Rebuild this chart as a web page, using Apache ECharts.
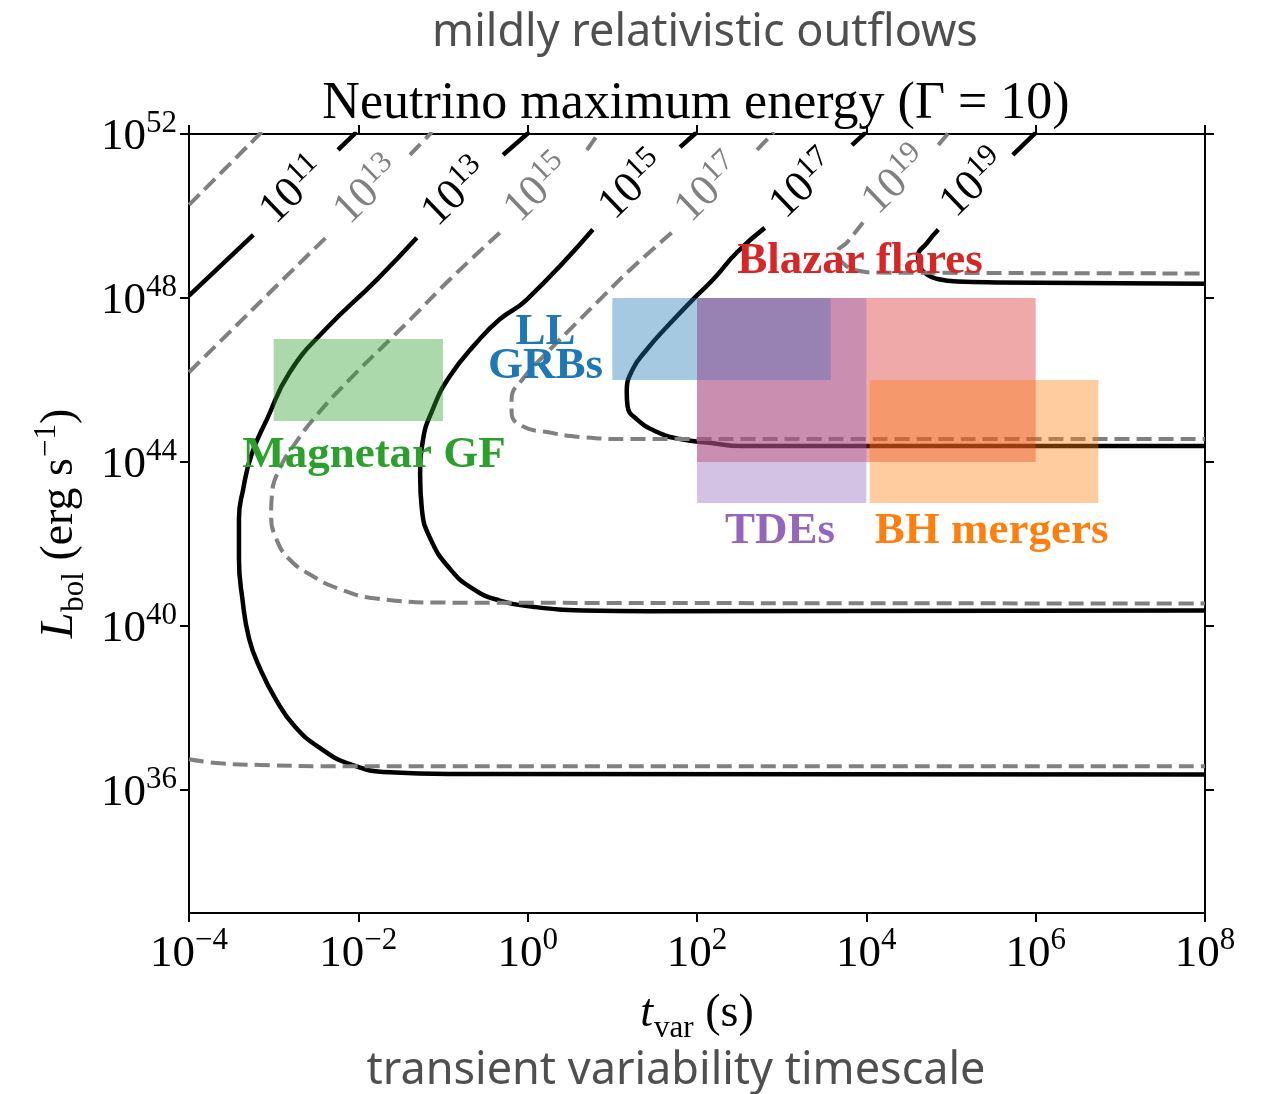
<!DOCTYPE html>
<html>
<head>
<meta charset="utf-8">
<script src="https://cdn.jsdelivr.net/npm/echarts@6/dist/echarts.min.js"></script>
<style>
  html, body { margin: 0; padding: 0; background: #fff; }
  #chart { width: 1263px; height: 1094px; }
</style>
</head>
<body>
<div id="chart"></div>
<script>
// ---------------- DATA (log10 values) ----------------
const X_TICK_EXP = [-4, -2, 0, 2, 4, 6, 8];
const Y_TICK_EXP = [36, 40, 44, 48, 52];
const X_RANGE_EXP = [-4, 8];
const Y_RANGE_EXP = [33, 52];

// black solid contours (segments of [log10 t, log10 L])
const B11 = [
  [[-4.00, 48.06], [-3.24, 49.54]],
  [[-2.24, 51.61], [-2.02, 52.05]]
];
const B13 = [
  [[-1.31, 49.47], [-1.78, 48.45], [-2.39, 47.23], [-2.81, 46.19], [-3.08, 45.04], [-3.26, 44.19],
   [-3.36, 43.34], [-3.41, 42.61], [-3.41, 41.64], [-3.37, 40.67], [-3.29, 39.69], [-3.16, 38.96],
   [-2.98, 38.23], [-2.75, 37.55], [-2.45, 37.02], [-2.10, 36.63], [-1.63, 36.43], [-0.92, 36.39],
   [8.00, 36.38]],
  [[-0.29, 51.49], [0.02, 52.05]]
];
const B15 = [
  [[0.77, 49.67], [-0.01, 47.96], [-0.33, 47.48], [-0.60, 46.92], [-0.92, 46.09], [-1.12, 45.29],
   [-1.24, 44.49], [-1.27, 43.66], [-1.25, 42.86], [-1.15, 42.13], [-0.92, 41.40], [-0.65, 40.91],
   [-0.33, 40.62], [0.06, 40.47], [0.65, 40.38], [1.44, 40.36], [8.00, 40.38]],
  [[1.80, 51.68], [2.00, 52.05]]
];
const B17 = [
  [[2.80, 49.71], [2.47, 49.11], [2.19, 48.45], [1.95, 47.96], [1.65, 47.31], [1.41, 46.75],
   [1.24, 46.26], [1.17, 45.70], [1.18, 45.36], [1.29, 45.04], [1.53, 44.73], [1.80, 44.56],
   [2.19, 44.46], [2.51, 44.39], [8.00, 44.39]],
  [[3.83, 51.73], [4.00, 52.05]]
];
const B19 = [
  [[4.85, 49.67], [4.72, 49.35], [4.61, 49.01], [4.63, 48.77], [4.72, 48.57], [4.83, 48.47],
   [5.07, 48.40], [5.54, 48.38], [8.00, 48.35]],
  [[5.73, 51.49], [6.01, 52.05]]
];

// grey dashed contours
const G11 = [
  [[-4.00, 50.27], [-3.14, 52.05]]
];
const G13 = [
  [[-4.00, 46.19], [-2.89, 48.45], [-2.37, 49.50]],
  [[-1.39, 51.49], [-1.13, 52.05]],
  [[-4.00, 36.75], [-3.63, 36.65], [-3.16, 36.61], [-2.33, 36.58], [8.00, 36.58]]
];
const G15 = [
  [[-0.33, 49.59], [-0.92, 48.45], [-1.35, 47.55], [-1.59, 47.06], [-2.10, 46.02], [-2.48, 45.17],
   [-2.75, 44.44], [-2.93, 43.83], [-3.02, 43.22], [-3.03, 42.69], [-2.97, 42.13], [-2.82, 41.64],
   [-2.55, 41.23], [-2.23, 40.91], [-1.79, 40.67], [-0.92, 40.57], [8.00, 40.55]],
  [[0.70, 51.61], [0.85, 52.05]]
];
const G17 = [
  [[1.70, 49.59], [1.21, 48.69], [0.89, 48.04], [0.58, 47.40], [0.23, 46.67], [-0.06, 46.02],
   [-0.19, 45.53], [-0.19, 45.21], [-0.06, 44.87], [0.23, 44.73], [0.62, 44.61], [1.21, 44.56],
   [8.00, 44.56]],
  [[2.71, 51.61], [2.91, 52.05]]
];
const G19 = [
  [[3.96, 49.84], [3.77, 49.35], [3.66, 49.11], [3.72, 48.86], [3.89, 48.67], [4.16, 48.62],
   [8.00, 48.60]],
  [[4.85, 51.73], [4.98, 52.05]]
];

// contour labels: [log10 t, log10 L, exponent]
const BLACK_LABELS = [[-2.78, 50.64, 11], [-0.86, 50.59, 13], [1.23, 50.76, 15], [3.25, 50.78, 17], [5.26, 50.81, 19]];
const GREY_LABELS  = [[-1.90, 50.64, 13], [0.11, 50.69, 15], [2.13, 50.69, 17], [4.34, 50.88, 19]];

// source boxes (drawn in this order): log10 t range, log10 L range
const BOX_NAMES = ['Blazar flares', 'LL GRBs', 'TDEs', 'BH mergers', 'Magnetar GF'];
const BOX_T0 = [2, 1, 2, 4.04, -3];
const BOX_T1 = [6, 3.58, 4, 6.74, -1];
const BOX_L0 = [44, 46, 43, 43, 45];
const BOX_L1 = [48, 48, 48, 46, 47];

// source text annotations: text and position (log10 t, log10 L)
const ANNOT_TEXT = ['Magnetar GF', 'LL\nGRBs', 'Blazar flares', 'TDEs', 'BH mergers'];
const ANNOT_T = [-1.815, 0.21, 3.925, 2.98, 5.48];
const ANNOT_L = [44.17, 46.75, 48.89, 42.30, 42.30];

// ---------------- STYLES ----------------
const SERIF = '"Liberation Serif", "DejaVu Serif", serif';
const SANS = '"Noto Sans", "Open Sans", sans-serif';
const BOX_COLORS = { 'Blazar flares': '#d62728', 'LL GRBs': '#1f77b4', 'TDEs': '#9467bd', 'BH mergers': '#ff7f0e', 'Magnetar GF': '#2ca02c' };
const ANNOT_COLORS = ['#2ca02c', '#1f77b4', '#d62728', '#9467bd', '#ff7f0e'];

const pw = (e) => Math.pow(10, e);
const supText = (e) => (e < 0 ? '\u2212' : '') + Math.abs(e);

const series = [];
function addContour(segs, solid) {
  segs.forEach(seg => {
    series.push({
      type: 'line',
      data: seg.map(p => [pw(p[0]), pw(p[1])]),
      showSymbol: false,
      symbol: 'none',
      smooth: 0.5,
      silent: true,
      clip: true,
      z: 2,
      lineStyle: solid
        ? { color: '#000000', width: 4.5, type: 'solid', cap: 'butt', opacity: 1 }
        : { color: '#808080', width: 4, type: [15, 7], cap: 'butt', opacity: 1 }
    });
  });
}
[B11, B13, B15, B17, B19].forEach(c => addContour(c, true));
[G11, G13, G15, G17, G19].forEach(c => addContour(c, false));

// boxes
series.push({
  type: 'custom',
  silent: true,
  z: 5,
  encode: { x: [0, 1], y: [2, 3] },
  data: BOX_NAMES.map((n, i) => ({ name: n, value: [pw(BOX_T0[i]), pw(BOX_T1[i]), pw(BOX_L0[i]), pw(BOX_L1[i])] })),
  renderItem: (params, api) => {
    const a = api.coord([api.value(0), api.value(2)]);
    const b = api.coord([api.value(1), api.value(3)]);
    return {
      type: 'rect',
      shape: { x: Math.min(a[0], b[0]), y: Math.min(a[1], b[1]), width: Math.abs(b[0] - a[0]), height: Math.abs(b[1] - a[1]) },
      style: { fill: BOX_COLORS[BOX_NAMES[params.dataIndex]], opacity: 0.4 }
    };
  }
});

// contour labels
function labelSeries(list, color) {
  return {
    type: 'scatter',
    silent: true,
    z: 6,
    symbolSize: 1,
    itemStyle: { color: 'rgba(0,0,0,0)', opacity: 1 },
    data: list.map(l => ({ value: [pw(l[0]), pw(l[1])], exp: l[2] })),
    label: {
      show: true,
      position: 'inside',
      rotate: 44,
      opacity: 1,
      formatter: (p) => '{b|10}{s|' + p.data.exp + '}',
      rich: {
        b: { fontFamily: SERIF, fontSize: 44, lineHeight: 48, verticalAlign: 'bottom', color: color },
        s: { fontFamily: SERIF, fontSize: 31, lineHeight: 30, verticalAlign: 'top', color: color }
      }
    }
  };
}
series.push(labelSeries(BLACK_LABELS, '#000000'));
series.push(labelSeries(GREY_LABELS, '#808080'));

// text annotations
series.push({
  type: 'scatter',
  silent: true,
  z: 7,
  symbolSize: 1,
  itemStyle: { color: 'rgba(0,0,0,0)', opacity: 1 },
  data: ANNOT_TEXT.map((t, i) => ({
    name: t,
    value: [pw(ANNOT_T[i]), pw(ANNOT_L[i])],
    label: { color: ANNOT_COLORS[i] }
  })),
  label: {
    show: true,
    position: 'inside',
    formatter: '{b}',
    opacity: 1,
    fontFamily: SERIF,
    fontWeight: 'bold',
    fontSize: 45,
    lineHeight: 34,
    align: 'center'
  }
});

const tickRich = {
  b: { fontFamily: SERIF, fontSize: 45, lineHeight: 52, verticalAlign: 'bottom', color: '#000' },
  s: { fontFamily: SERIF, fontSize: 31, lineHeight: 30, verticalAlign: 'top', color: '#000' }
};
const tickFormatter = (v) => '{b|10}{s|' + supText(Math.round(Math.log10(v))) + '}';
// tick positions (tiny inward nudge so the end ticks sit inside the axis extent)
const xTicks = X_TICK_EXP.map(e => pw(e === X_RANGE_EXP[1] ? e - 1e-9 : e));
const yTicks = Y_TICK_EXP.map(e => pw(e === Y_RANGE_EXP[1] ? e - 1e-9 : e));
const axisLineStyle = { show: true, onZero: false, lineStyle: { color: '#000', width: 2 } };
const tickStyle = (vals) => ({ show: true, inside: false, length: 9, customValues: vals, lineStyle: { color: '#000', width: 2 } });

const nameRich = {
  it: { fontFamily: SERIF, fontStyle: 'italic', fontSize: 46, lineHeight: 46, verticalAlign: 'top', padding: [6, 0, 0, 0], color: '#000' },
  n: { fontFamily: SERIF, fontSize: 46, lineHeight: 46, verticalAlign: 'top', padding: [6, 0, 0, 0], color: '#000' },
  sub: { fontFamily: SERIF, fontSize: 31, lineHeight: 31, verticalAlign: 'top', padding: [28, 0, 0, 1], color: '#000' },
  sup: { fontFamily: SERIF, fontSize: 31, lineHeight: 31, verticalAlign: 'top', padding: [0, 0, 0, 1], color: '#000' }
};

const option = {
  animation: false,
  backgroundColor: '#ffffff',
  title: [
    { text: 'mildly relativistic outflows', left: 705, top: 11, padding: 0, textAlign: 'center',
      textStyle: { fontFamily: SANS, fontSize: 45, fontWeight: 'normal', color: '#4f4f4f' } },
    { text: 'Neutrino maximum energy (\u0393 = 10)', left: 696, top: 78, padding: 0, textAlign: 'center',
      textStyle: { fontFamily: SERIF, fontSize: 52, fontWeight: 'normal', color: '#000' } },
    { text: 'transient variability timescale', left: 676, top: 1049, padding: 0, textAlign: 'center',
      textStyle: { fontFamily: SANS, fontSize: 45, fontWeight: 'normal', color: '#4f4f4f' } }
  ],
  grid: { left: 189, right: 58, top: 134, bottom: 181, containLabel: false, outerBoundsMode: 'none' },
  xAxis: [
    {
      type: 'log', logBase: 10, min: pw(X_RANGE_EXP[0]), max: pw(X_RANGE_EXP[1]), position: 'bottom',
      axisLine: axisLineStyle,
      axisTick: tickStyle(xTicks),
      minorTick: { show: false },
      splitLine: { show: false },
      axisLabel: { show: true, margin: 12, customValues: xTicks, formatter: tickFormatter, rich: tickRich },
      name: '{it|t}{sub|var}{n| (s)}',
      nameLocation: 'middle',
      nameGap: 72,
      nameTextStyle: { rich: nameRich }
    },
    {
      type: 'log', logBase: 10, min: pw(X_RANGE_EXP[0]), max: pw(X_RANGE_EXP[1]), position: 'top',
      axisLine: axisLineStyle,
      axisTick: tickStyle(xTicks),
      minorTick: { show: false },
      splitLine: { show: false },
      axisLabel: { show: false }
    }
  ],
  yAxis: [
    {
      type: 'log', logBase: 10, min: pw(Y_RANGE_EXP[0]), max: pw(Y_RANGE_EXP[1]), position: 'left',
      axisLine: axisLineStyle,
      axisTick: tickStyle(yTicks),
      minorTick: { show: false },
      splitLine: { show: false },
      axisLabel: { show: true, margin: 12, customValues: yTicks, formatter: tickFormatter, rich: tickRich },
      name: '{it|L}{sub|bol}{n| (erg s}{sup|\u22121}{n|)}',
      nameLocation: 'middle',
      nameRotate: 90,
      nameGap: 92,
      nameTextStyle: { rich: nameRich }
    },
    {
      type: 'log', logBase: 10, min: pw(Y_RANGE_EXP[0]), max: pw(Y_RANGE_EXP[1]), position: 'right',
      axisLine: axisLineStyle,
      axisTick: tickStyle(yTicks),
      minorTick: { show: false },
      splitLine: { show: false },
      axisLabel: { show: false }
    }
  ],
  series: series
};

const chart = echarts.init(document.getElementById('chart'), null, { renderer: 'canvas' });
chart.setOption(option);
</script>
</body>
</html>
